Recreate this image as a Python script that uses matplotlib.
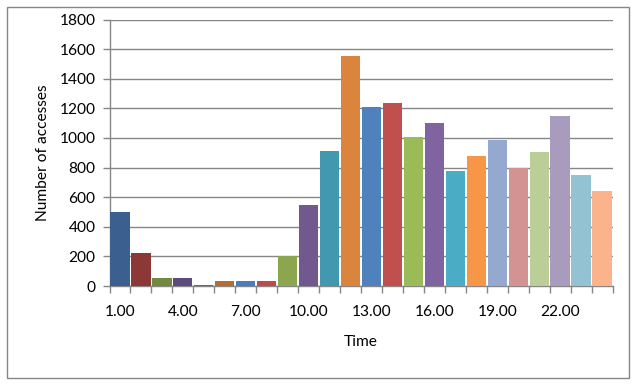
import matplotlib
matplotlib.use("Agg")
import matplotlib.pyplot as plt
from matplotlib.patches import Rectangle
import numpy as np

hours = ["%d.00" % h for h in range(1, 25)]
accesses = [500, 220, 55, 55, 8, 35, 35, 35, 205, 550, 910, 1555,
            1210, 1235, 1005, 1100, 780, 880, 985, 800, 905, 1150, 750, 645]
colors = ["#3B5F8E", "#8C3836", "#728A3F", "#5E4A7C", "#357D91", "#B66D31",
          "#4A7EBB", "#BE4B48", "#8BA64F", "#71588F", "#4198AF", "#DB843D",
          "#4F81BD", "#C0504D", "#9BBB59", "#8064A2", "#4BACC6", "#F79646",
          "#95A9D0", "#D39392", "#BBCE97", "#A99BBD", "#93C3D3", "#FAB38B"]
yticks = [0, 200, 400, 600, 800, 1000, 1200, 1400, 1600, 1800]

plt.rcParams['font.family'] = ['Lato', 'DejaVu Sans']

W, H = 641, 385
fig = plt.figure(figsize=(W / 100, H / 100), dpi=100)
left, right, bottom, top = 109.5, 612.5, 286, 19.5
ax = fig.add_axes([left / W, 1 - bottom / H, (right - left) / W, (bottom - top) / H])

x = np.arange(len(accesses))
ax.bar(x, accesses, width=0.92, color=colors, zorder=3)
ax.set_xlim(-0.5, len(accesses) - 0.5)
ax.set_ylim(0, 1800)

fs = 11.2
grid_c = "#868686"
ax.set_yticks(yticks)
ax.set_yticklabels([str(v) for v in yticks], fontsize=fs)
ax.yaxis.grid(True, color=grid_c, linewidth=1.0, zorder=0)
ax.tick_params(axis='y', direction='out', length=5, color=grid_c, width=1, pad=5)

ax.set_xticks(np.arange(-0.5, len(accesses) + 0.5, 1.0), minor=True)
ax.set_xticks(x[::3])
ax.set_xticklabels([hours[i] for i in x[::3]], fontsize=fs)
ax.tick_params(axis='x', which='major', length=0, pad=14)
ax.tick_params(axis='x', which='minor', direction='out', length=5, color=grid_c, width=1)

for s in ['top', 'right']:
    ax.spines[s].set_visible(False)
for s in ['left', 'bottom']:
    ax.spines[s].set_color(grid_c)
    ax.spines[s].set_linewidth(1.0)

ax.set_xlabel("Time", fontsize=fs, labelpad=11)
ax.set_ylabel("Number of accesses", fontsize=fs, labelpad=7)

fig.patches.append(Rectangle((7 / W, 1 - 378 / H), (629 - 7) / W, (378 - 7) / H,
                             transform=fig.transFigure, fill=False,
                             edgecolor=grid_c, linewidth=1.0))

fig.savefig("out.png", dpi=100)
